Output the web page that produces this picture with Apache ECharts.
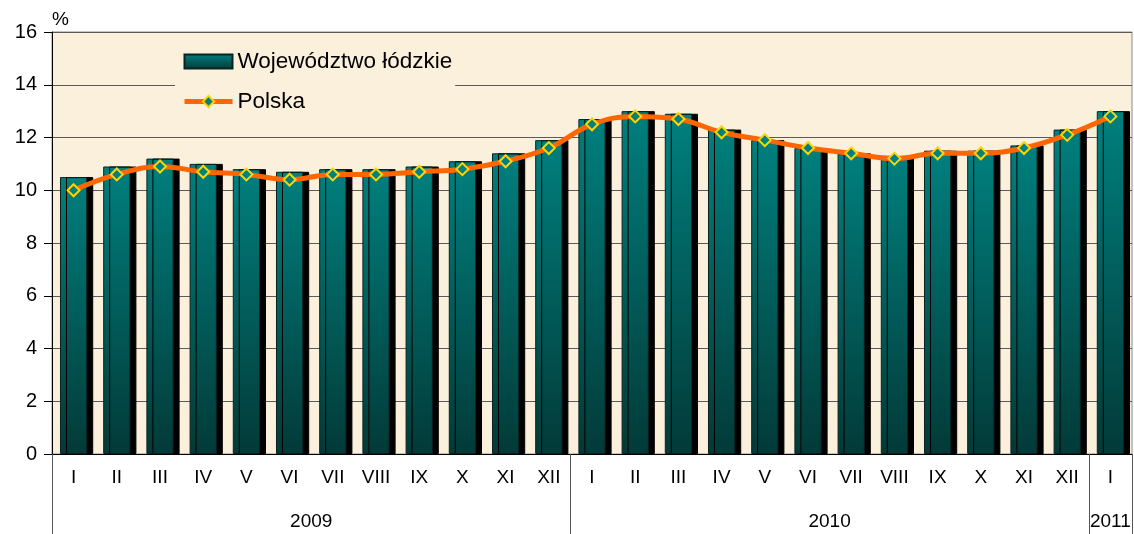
<!doctype html>
<html>
<head>
	<meta charset="utf-8">
	<title></title>
	<script src="https://cdn.jsdelivr.net/npm/echarts@6/dist/echarts.min.js"></script>
	<style>
		body { margin: 0; background: #fff; }
	</style>
</head>
<body>
	<div id="main" style="width: 1134px;height:534px;"></div>
	<script type="text/javascript">
		var months = ['I', 'II', 'III', 'IV', 'V', 'VI', 'VII', 'VIII', 'IX', 'X', 'XI', 'XII',
			'I', 'II', 'III', 'IV', 'V', 'VI', 'VII', 'VIII', 'IX', 'X', 'XI', 'XII', 'I'];
		var years = ['2009', '2010', '2011'];
		var yearCenters = [6, 18, 24.5];
		var yearBounds = [0, 12, 24, 25];
		var lodzkie = [10.5, 10.9, 11.2, 11.0, 10.8, 10.7, 10.8, 10.8, 10.9, 11.1, 11.4, 11.9,
			12.7, 13.0, 12.9, 12.3, 11.9, 11.6, 11.4, 11.3, 11.5, 11.5, 11.7, 12.3, 13.0];
		var polska = [10.0, 10.6, 10.9, 10.7, 10.6, 10.4, 10.6, 10.6, 10.7, 10.8, 11.1, 11.6,
			12.5, 12.8, 12.7, 12.2, 11.9, 11.6, 11.4, 11.2, 11.4, 11.4, 11.6, 12.1, 12.8];

		var myChart = echarts.init(document.getElementById('main'));
		var font = 'Arial, "Liberation Sans", sans-serif';

		option = {
			backgroundColor: '#fff',
			textStyle: { fontFamily: font },
			animation: false,
			grid: {
				left: 52, right: 2, top: 32, bottom: 80,
				show: true,
				backgroundColor: '#fbf0db',
				borderColor: '#8a8a8a',
				borderWidth: 1
			},
			legend: {
				orient: 'vertical',
				left: 175,
				top: 42,
				padding: [8, 3, 8, 7],
				itemGap: 17,
				itemWidth: 48,
				itemHeight: 14,
				backgroundColor: '#fbf0db',
				textStyle: { fontSize: 22.5, color: '#000', fontFamily: font },
				itemStyle: { shadowColor: 'transparent', shadowOffsetX: 0, shadowOffsetY: 0 },
				data: [
					{ name: 'Województwo łódzkie', icon: 'rect' },
					{ name: 'Polska', lineStyle: { width: 5 } }
				]
			},
			xAxis: [
				{
					type: 'category',
					data: months,
					axisLine: { lineStyle: { color: '#000', width: 1 } },
					axisTick: { length: 41, interval: 0, lineStyle: { color: '#000' } },
					axisLabel: { fontSize: 19, color: '#000', margin: 14, interval: 0 },
					splitLine: { show: false }
				},
				{
					type: 'value',
					position: 'bottom',
					min: 0,
					max: 25,
					axisLine: { show: false },
					splitLine: { show: false },
					axisTick: {
						show: true,
						customValues: yearBounds,
						length: 80,
						lineStyle: { color: '#555' }
					},
					axisLabel: {
						customValues: yearCenters,
						fontSize: 19,
						color: '#000',
						margin: 58,
						formatter: function (v) {
							var i = yearCenters.indexOf(v);
							return i >= 0 ? years[i] : '';
						}
					}
				}
			],
			yAxis: {
				type: 'value',
				min: 0,
				max: 16,
				interval: 2,
				name: '%',
				nameLocation: 'end',
				nameGap: 3,
				nameTextStyle: { fontSize: 19, color: '#000', align: 'left', padding: [0, 0, 0, 0] },
				axisLine: { show: true, lineStyle: { color: '#000' } },
				axisTick: { show: true, length: 8, lineStyle: { color: '#000' } },
				axisLabel: { fontSize: 20, color: '#000', margin: 15 },
				splitLine: { lineStyle: { color: '#5a5a5a', width: 1 } }
			},
			series: [
				{
					name: 'Województwo łódzkie',
					type: 'bar',
					data: lodzkie,
					barWidth: '63%',
					itemStyle: {
						color: new echarts.graphic.LinearGradient(0, 0, 0, 1, [
							{ offset: 0, color: '#00807e' },
							{ offset: 1, color: '#023a38' }
						]),
						borderColor: '#0b2222',
						borderWidth: 1,
						shadowColor: '#000',
						shadowBlur: 0,
						shadowOffsetX: 6,
						shadowOffsetY: 0
					}
				},
				{
					name: 'Polska',
					type: 'line',
					data: polska,
					smooth: 0.4,
					symbol: 'diamond',
					symbolSize: 12,
					z: 5,
					lineStyle: { color: '#ff6600', width: 5 },
					itemStyle: { color: '#008080', borderColor: '#ffd400', borderWidth: 2 }
				}
			]
		};

		myChart.setOption(option);
	</script>
</body>
</html>
